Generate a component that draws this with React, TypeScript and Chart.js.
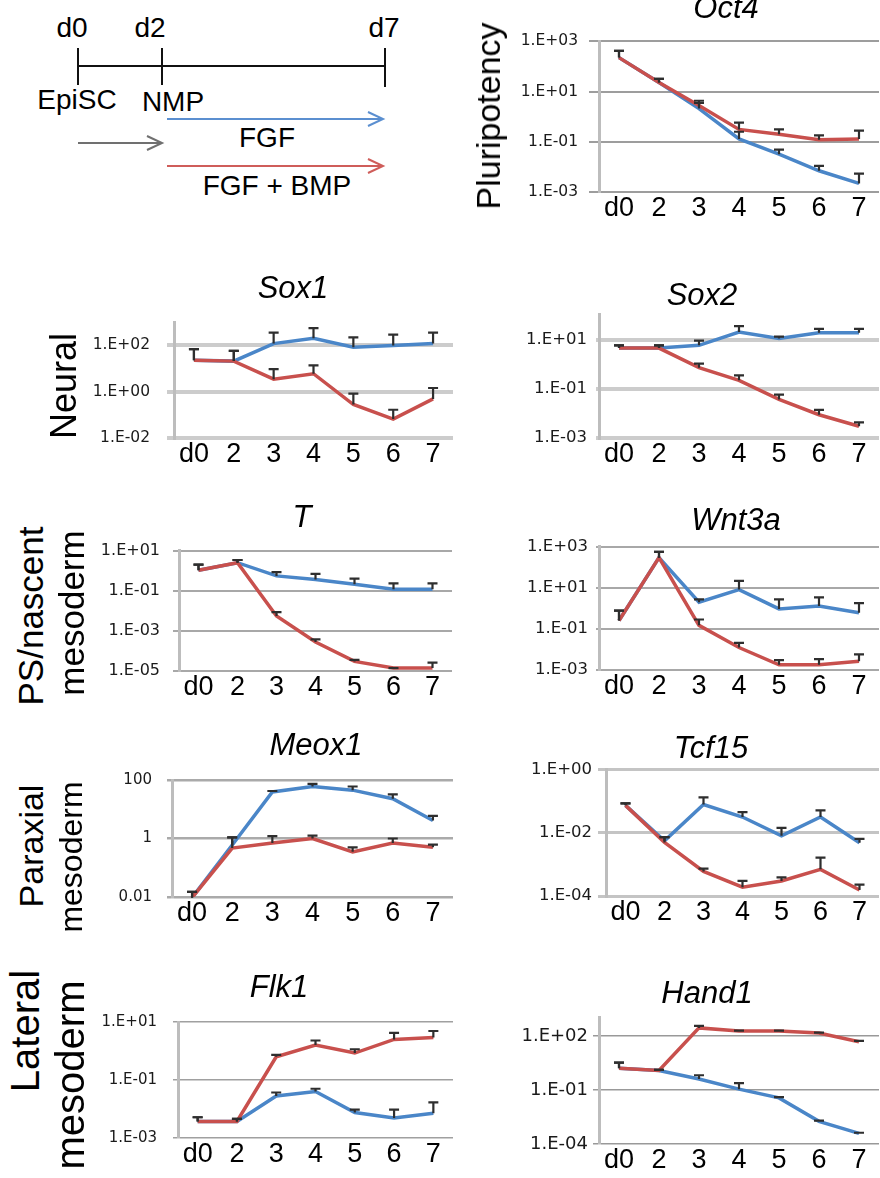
import React, { useEffect, useRef } from 'react';
import { Chart, registerables } from 'chart.js';

Chart.register(...registerables);

// ---------------- data ----------------
const days = ['d0', '2', '3', '4', '5', '6', '7'];

// Oct4
const oct4Fgf = [224, 23, 2.1, 0.13, 0.032, 0.007, 0.0022];
const oct4FgfErr = [417, 32, 3.5, 0.25, 0.049, 0.011, 0.0054];
const oct4Bmp = [224, 23, 2.8, 0.31, 0.2, 0.12, 0.13];
const oct4BmpErr = [417, 32, 4.3, 0.58, 0.31, 0.18, 0.28];
const oct4Ticks = [1e-3, 1e-1, 1e1, 1e3];
const oct4TickLabels = ['1.E-03', '1.E-01', '1.E+01', '1.E+03'];

// Sox1
const sox1Fgf = [23, 21, 120, 206, 83, 100, 120];
const sox1FgfErr = [69, 58, 355, 560, 224, 295, 355];
const sox1Bmp = [23, 21, 3.5, 6, 0.28, 0.066, 0.49];
const sox1BmpErr = [69, 58, 9.5, 13.8, 0.83, 0.166, 1.45];
const sox1Ticks = [1e-2, 1, 1e2];
const sox1TickLabels = ['1.E-02', '1.E+00', '1.E+02'];

// Sox2
const sox2Fgf = [4.5, 4.5, 5.8, 20, 11, 19, 19];
const sox2FgfErr = [5.8, 5.8, 9.1, 35, 13, 27, 27];
const sox2Bmp = [4.5, 4.5, 0.72, 0.22, 0.037, 0.0088, 0.003];
const sox2BmpErr = [5.8, 5.8, 1.05, 0.35, 0.058, 0.0138, 0.0043];
const sox2Ticks = [1e-3, 1e-1, 1e1];
const sox2TickLabels = ['1.E-03', '1.E-01', '1.E+01'];

// T
const tFgf = [1.05, 2.5, 0.55, 0.36, 0.21, 0.12, 0.12];
const tFgfErr = [2.0, 3.4, 0.85, 0.69, 0.4, 0.23, 0.23];
const tBmp = [1.05, 2.5, 0.0055, 0.00028, 0.00003, 0.000014, 0.000014];
const tBmpErr = [2.0, 3.4, 0.0085, 0.00038, 0.000036, 0.000014, 0.000026];
const tTicks = [1e-5, 1e-3, 1e-1, 1e1];
const tTickLabels = ['1.E-05', '1.E-03', '1.E-01', '1.E+01'];

// Wnt3a
const wnt3aFgf = [0.26, 300, 2, 8.3, 0.95, 1.3, 0.62];
const wnt3aFgfErr = [0.78, 575, 2.8, 22, 2.8, 3.5, 1.8];
const wnt3aBmp = [0.26, 300, 0.15, 0.0125, 0.0018, 0.0018, 0.0027];
const wnt3aBmpErr = [0.78, 575, 0.29, 0.021, 0.003, 0.0034, 0.0058];
const wnt3aTicks = [1e-3, 1e-1, 1e1, 1e3];
const wnt3aTickLabels = ['1.E-03', '1.E-01', '1.E+01', '1.E+03'];

// Meox1
const meox1Fgf = [0.0095, 0.6, 39, 60, 45, 23, 4.1];
const meox1FgfErr = [0.015, 1.1, 42, 74, 60, 32, 5.9];
const meox1Bmp = [0.0095, 0.47, 0.7, 1.0, 0.35, 0.7, 0.5];
const meox1BmpErr = [0.015, 1.1, 1.2, 1.26, 0.5, 1.0, 0.62];
const meox1Ticks = [0.01, 1, 100];
const meox1TickLabels = ['0.01', '1', '100'];

// Tcf15
const tcf15Fgf = [0.075, 0.0056, 0.08, 0.032, 0.0081, 0.032, 0.0049];
const tcf15FgfErr = [0.087, 0.0074, 0.135, 0.046, 0.0145, 0.052, 0.0065];
const tcf15Bmp = [0.075, 0.005, 0.0006, 0.00019, 0.0003, 0.0007, 0.000155];
const tcf15BmpErr = [0.087, 0.0074, 0.00074, 0.0003, 0.00039, 0.00166, 0.00023];
const tcf15Ticks = [1e-4, 1e-2, 1];
const tcf15TickLabels = ['1.E-04', '1.E-02', '1.E+00'];

// Flk1
const flk1Fgf = [0.0037, 0.0037, 0.028, 0.04, 0.0076, 0.0049, 0.0071];
const flk1FgfErr = [0.0052, 0.0046, 0.037, 0.05, 0.0095, 0.0095, 0.017];
const flk1Bmp = [0.0037, 0.0037, 0.63, 1.6, 0.85, 2.5, 2.9];
const flk1BmpErr = [0.0052, 0.0046, 0.74, 2.3, 1.15, 4.2, 4.9];
const flk1Ticks = [1e-3, 1e-1, 1e1];
const flk1TickLabels = ['1.E-03', '1.E-01', '1.E+01'];

// Hand1
const hand1Fgf = [1.6, 1.2, 0.4, 0.11, 0.036, 0.0018, 0.00039];
const hand1FgfErr = [3.3, 1.3, 0.65, 0.24, 0.04, 0.002, 0.00042];
const hand1Bmp = [1.6, 1.2, 275, 185, 185, 145, 47];
const hand1BmpErr = [3.3, 1.3, 355, 195, 195, 150, 52];
const hand1Ticks = [1e-4, 1e-1, 1e2];
const hand1TickLabels = ['1.E-04', '1.E-01', '1.E+02'];

// ---------------- styles ----------------
const SANS = '"Liberation Sans", Arial, Helvetica, sans-serif';
const TICK_FONT = '"DejaVu Sans", sans-serif';
const BLUE = '#4a86c8';
const RED = '#c8504d';
const ERR = '#2e2e2e';
const Y_W = 110;
const PAD_T = 14;
const X_H = 40;

type PanelSpec = {
  fgf: number[]; fgfErr: number[]; bmp: number[]; bmpErr: number[];
  min: number; max: number; ticks: number[]; tickLabels: string[];
  left: number; right: number; top: number; bottom: number;
  tickFont: number; tickLen: number; gap: number; gridColor: string; gridWidth: number;
};

const panels: PanelSpec[] = [
  { fgf: oct4Fgf, fgfErr: oct4FgfErr, bmp: oct4Bmp, bmpErr: oct4BmpErr, min: 1e-3, max: 1e3, ticks: oct4Ticks, tickLabels: oct4TickLabels,
    left: 599, right: 879, top: 35, bottom: 192, tickFont: 15.5, tickLen: 10, gap: 21, gridColor: '#9d9d9d', gridWidth: 2 },
  { fgf: sox1Fgf, fgfErr: sox1FgfErr, bmp: sox1Bmp, bmpErr: sox1BmpErr, min: 1e-2, max: 1e3, ticks: sox1Ticks, tickLabels: sox1TickLabels,
    left: 174, right: 453, top: 310, bottom: 438, tickFont: 15.5, tickLen: 7, gap: 24, gridColor: '#cccccc', gridWidth: 4 },
  { fgf: sox2Fgf, fgfErr: sox2FgfErr, bmp: sox2Bmp, bmpErr: sox2BmpErr, min: 1e-3, max: 1e2, ticks: sox2Ticks, tickLabels: sox2TickLabels,
    left: 599, right: 879, top: 310, bottom: 438, tickFont: 16.5, tickLen: 3, gap: 12, gridColor: '#cccccc', gridWidth: 4 },
  { fgf: tFgf, fgfErr: tFgfErr, bmp: tBmp, bmpErr: tBmpErr, min: 1e-5, max: 1e1, ticks: tTicks, tickLabels: tTickLabels,
    left: 179, right: 452, top: 542, bottom: 671, tickFont: 16, tickLen: 6, gap: 19, gridColor: '#a8a8a8', gridWidth: 2 },
  { fgf: wnt3aFgf, fgfErr: wnt3aFgfErr, bmp: wnt3aBmp, bmpErr: wnt3aBmpErr, min: 1e-3, max: 1e3, ticks: wnt3aTicks, tickLabels: wnt3aTickLabels,
    left: 599, right: 879, top: 543, bottom: 670, tickFont: 16.5, tickLen: 3, gap: 11, gridColor: '#a8a8a8', gridWidth: 2 },
  { fgf: meox1Fgf, fgfErr: meox1FgfErr, bmp: meox1Bmp, bmpErr: meox1BmpErr, min: 0.01, max: 100, ticks: meox1Ticks, tickLabels: meox1TickLabels,
    left: 172, right: 453, top: 770, bottom: 897, tickFont: 15, tickLen: 5, gap: 20, gridColor: '#aaaaaa', gridWidth: 2.5 },
  { fgf: tcf15Fgf, fgfErr: tcf15FgfErr, bmp: tcf15Bmp, bmpErr: tcf15BmpErr, min: 1e-4, max: 1, ticks: tcf15Ticks, tickLabels: tcf15TickLabels,
    left: 606, right: 879, top: 768, bottom: 896, tickFont: 16.5, tickLen: 8, gap: 14, gridColor: '#c4c4c4', gridWidth: 3 },
  { fgf: flk1Fgf, fgfErr: flk1FgfErr, bmp: flk1Bmp, bmpErr: flk1BmpErr, min: 1e-3, max: 1e1, ticks: flk1Ticks, tickLabels: flk1TickLabels,
    left: 178, right: 453, top: 1011, bottom: 1138, tickFont: 15, tickLen: 5, gap: 21, gridColor: '#a0a0a0', gridWidth: 1.5 },
  { fgf: hand1Fgf, fgfErr: hand1FgfErr, bmp: hand1Bmp, bmpErr: hand1BmpErr, min: 1e-4, max: 1e3, ticks: hand1Ticks, tickLabels: hand1TickLabels,
    left: 599, right: 879, top: 1016, bottom: 1144, tickFont: 18, tickLen: 6, gap: 11, gridColor: '#999999', gridWidth: 1.5 },
];

const titles = [
  { text: 'Oct4', cx: 726, base: 18, size: 31 },
  { text: 'Sox1', cx: 293, base: 298, size: 31 },
  { text: 'Sox2', cx: 702, base: 305, size: 31 },
  { text: 'T', cx: 302, base: 527, size: 31 },
  { text: 'Wnt3a', cx: 736, base: 530, size: 31 },
  { text: 'Meox1', cx: 316, base: 755, size: 31 },
  { text: 'Tcf15', cx: 711, base: 758, size: 31 },
  { text: 'Flk1', cx: 279, base: 997, size: 31 },
  { text: 'Hand1', cx: 707, base: 1003, size: 31 },
];

const rowLabels = [
  { text: 'Pluripotency', cx: 488, cy: 116, size: 34 },
  { text: 'Neural', cx: 64, cy: 386, size: 36 },
  { text: 'PS/nascent', cx: 30, cy: 616, size: 35 },
  { text: 'mesoderm', cx: 71, cy: 613, size: 35 },
  { text: 'Paraxial', cx: 31, cy: 846, size: 34 },
  { text: 'mesoderm', cx: 71, cy: 857, size: 32 },
  { text: 'Lateral', cx: 25, cy: 1031, size: 40 },
  { text: 'mesoderm', cx: 70, cy: 1075, size: 40 },
];

const errorBarPlugin = {
  id: 'errorBars',
  afterDatasetsDraw(chart: any) {
    const ctx = chart.ctx;
    const ys = chart.scales.y;
    chart.data.datasets.forEach((ds: any, di: number) => {
      const meta = chart.getDatasetMeta(di);
      const ups: number[] = ds.errorUp;
      if (!ups) return;
      meta.data.forEach((pt: any, i: number) => {
        const x = pt.x;
        const y0 = pt.y;
        const y1 = ys.getPixelForValue(ups[i]);
        ctx.save();
        ctx.strokeStyle = ERR;
        ctx.lineWidth = 2.2;
        ctx.beginPath();
        ctx.moveTo(x, y0);
        ctx.lineTo(x, y1);
        ctx.moveTo(x - 5, y1);
        ctx.lineTo(x + 5, y1);
        ctx.stroke();
        ctx.restore();
      });
    });
  },
};

function Panel({ spec }: { spec: PanelSpec }) {
  const ref = useRef<HTMLCanvasElement>(null);
  const cLeft = spec.left - Y_W;
  const cTop = spec.top - PAD_T;
  const cW = spec.right - spec.left + Y_W + 1;
  const cH = spec.bottom - spec.top + PAD_T + X_H;
  useEffect(() => {
    const chart = new Chart(ref.current as HTMLCanvasElement, {
      type: 'line',
      data: {
        labels: days,
        datasets: [
          { label: 'FGF + BMP', data: spec.bmp, errorUp: spec.bmpErr, borderColor: RED, backgroundColor: RED,
            borderWidth: 3.5, pointRadius: 0, tension: 0, fill: false } as any,
          { label: 'FGF', data: spec.fgf, errorUp: spec.fgfErr, borderColor: BLUE, backgroundColor: BLUE,
            borderWidth: 3.5, pointRadius: 0, tension: 0, fill: false } as any,
        ],
      },
      options: {
        responsive: false,
        animation: false,
        devicePixelRatio: 1,
        layout: { padding: { top: PAD_T, right: 1, left: 0, bottom: 0 } },
        plugins: { legend: { display: false }, tooltip: { enabled: false }, title: { display: false } },
        scales: {
          x: {
            type: 'category',
            offset: true,
            grid: { display: false, drawTicks: false },
            border: { display: false },
            ticks: { font: { family: SANS, size: 27 }, color: '#000', padding: 0, maxRotation: 0, autoSkip: false },
            afterFit: (s: any) => { s.height = X_H; },
          },
          y: {
            type: 'logarithmic',
            min: spec.min,
            max: spec.max,
            afterBuildTicks: (s: any) => { s.ticks = spec.ticks.map((v) => ({ value: v })); },
            ticks: {
              callback: (_v: any, i: number) => spec.tickLabels[i],
              font: { family: TICK_FONT, size: spec.tickFont },
              color: '#1a1a1a',
              padding: spec.gap - spec.tickLen,
            },
            grid: { color: spec.gridColor, lineWidth: spec.gridWidth, tickLength: spec.tickLen, drawTicks: true },
            border: { display: true, color: '#bdbdbd', width: 3 },
            afterFit: (s: any) => { s.width = Y_W; },
          },
        },
      } as any,
      plugins: [errorBarPlugin],
    });
    return () => chart.destroy();
  }, []);
  return (
    <canvas
      ref={ref}
      width={cW}
      height={cH}
      style={{ position: 'absolute', left: cLeft, top: cTop, width: cW, height: cH }}
    />
  );
}

function Arrow({ x1, x2, y, color }: { x1: number; x2: number; y: number; color: string }) {
  return (
    <g stroke={color} strokeWidth={2} fill="none">
      <line x1={x1} y1={y} x2={x2} y2={y} />
      <polyline points={`${x2 - 15},${y - 7} ${x2},${y} ${x2 - 15},${y + 7}`} />
    </g>
  );
}

function Diagram() {
  const t = { fontFamily: SANS, fontSize: 28, fill: '#000', textAnchor: 'middle' as const };
  return (
    <svg width={460} height={220} style={{ position: 'absolute', left: 0, top: 0 }}>
      <text x={72} y={37} {...t}>d0</text>
      <text x={150} y={37} {...t}>d2</text>
      <text x={384} y={37} {...t}>d7</text>
      <g stroke="#111" strokeWidth={2}>
        <line x1={78} y1={66} x2={385} y2={66} />
        <line x1={78} y1={48} x2={78} y2={85} />
        <line x1={162} y1={48} x2={162} y2={85} />
        <line x1={385} y1={48} x2={385} y2={87} />
      </g>
      <text x={77} y={109} {...t}>EpiSC</text>
      <text x={173} y={111} {...t}>NMP</text>
      <Arrow x1={167} x2={383} y={119} color="#5b8fd0" />
      <text x={267} y={147} {...t}>FGF</text>
      <Arrow x1={78} x2={162} y={143} color="#707070" />
      <Arrow x1={167} x2={383} y={166} color="#cf5d5a" />
      <text x={277} y={195} {...t}>FGF + BMP</text>
    </svg>
  );
}

export default function App() {
  return (
    <div
      style={{
        position: 'absolute', left: 0, top: 0, width: 880, height: 1178,
        overflow: 'hidden', background: '#fff', fontFamily: SANS,
      }}
    >
      <Diagram />
      {panels.map((p, i) => <Panel key={i} spec={p} />)}
      {titles.map((t, i) => (
        <div
          key={'t' + i}
          style={{
            position: 'absolute', left: t.cx, top: t.base - 0.8465 * t.size,
            transform: 'translateX(-50%)', fontSize: t.size, lineHeight: 1,
            fontStyle: 'italic', whiteSpace: 'nowrap', color: '#000', fontFamily: SANS,
          }}
        >
          {t.text}
        </div>
      ))}
      {rowLabels.map((r, i) => (
        <div
          key={'r' + i}
          style={{
            position: 'absolute', left: r.cx, top: r.cy,
            transform: 'translate(-50%, -50%) rotate(-90deg)', fontSize: r.size, lineHeight: 1,
            whiteSpace: 'nowrap', color: '#000', fontFamily: SANS,
          }}
        >
          {r.text}
        </div>
      ))}
    </div>
  );
}
